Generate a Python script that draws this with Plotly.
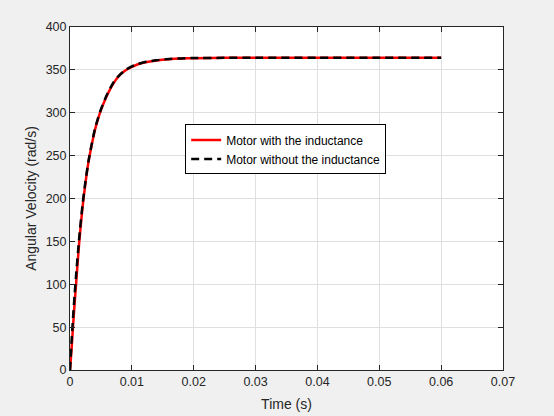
import plotly.graph_objects as go

# Time samples (s)
time_s = [0, 0.00025, 0.0005, 0.00075, 0.001, 0.0015, 0.002, 0.0025, 0.003, 0.0035,
          0.004, 0.0045, 0.005, 0.006, 0.007, 0.008, 0.009, 0.010, 0.011, 0.012,
          0.014, 0.016, 0.018, 0.020, 0.025, 0.030, 0.040, 0.050, 0.060]

# Motor with the inductance (rad/s)
with_inductance = [0, 24, 52, 78, 102, 150, 188, 218, 243, 262,
                   279, 292, 303, 320.5, 334, 343.5, 349.5, 353.5, 356.5, 358.5,
                   361, 362.5, 363.3, 363.7, 364, 364, 364, 364, 364]

# Motor without the inductance (rad/s)
without_inductance = [0, 33, 62, 88, 112, 155, 191, 220, 244, 263,
                      280, 293, 304, 321.5, 335, 344, 350, 354, 357, 359,
                      361.3, 362.7, 363.4, 363.8, 364, 364, 364, 364, 364]

x_ticks = [0, 0.01, 0.02, 0.03, 0.04, 0.05, 0.06, 0.07]
x_tick_labels = ["0", "0.01", "0.02", "0.03", "0.04", "0.05", "0.06", "0.07"]
y_ticks = [0, 50, 100, 150, 200, 250, 300, 350, 400]

axis_color = "#262626"
font_family = "Liberation Sans, Arial, sans-serif"

fig = go.Figure()
fig.add_trace(go.Scatter(
    x=time_s, y=with_inductance, mode="lines",
    name="Motor with the inductance",
    line=dict(color="#ff0000", width=2.5, shape="spline", smoothing=0.6),
))
fig.add_trace(go.Scatter(
    x=time_s, y=without_inductance, mode="lines",
    name="Motor without the inductance",
    line=dict(color="#000000", width=2.5, dash="8px,5px", shape="spline", smoothing=0.6),
))

axis_common = dict(
    showline=True, linecolor=axis_color, linewidth=1, mirror="allticks",
    ticks="inside", ticklen=5, tickcolor=axis_color, tickwidth=1,
    showgrid=True, gridcolor="#dfdfdf", gridwidth=1, zeroline=False,
    tickfont=dict(family=font_family, size=12.5, color=axis_color),
)

fig.update_xaxes(
    range=[0, 0.07], tickvals=x_ticks, ticktext=x_tick_labels,
    title=dict(text="Time (s)", font=dict(family=font_family, size=14, color=axis_color), standoff=11),
    **axis_common,
)
fig.update_yaxes(
    range=[0, 400], tickvals=y_ticks,
    title=dict(text="Angular Velocity (rad/s)", font=dict(family=font_family, size=14, color=axis_color), standoff=5),
    **axis_common,
)

fig.update_layout(
    width=554, height=416,
    margin=dict(l=70, r=51, t=27, b=46, autoexpand=False),
    paper_bgcolor="#f0f0f0", plot_bgcolor="#ffffff",
    font=dict(family=font_family, color=axis_color),
    showlegend=True,
    legend=dict(
        x=0.266, y=0.716, xanchor="left", yanchor="top",
        bgcolor="#ffffff", bordercolor="#000000", borderwidth=1,
        font=dict(family=font_family, size=12, color="#000000"),
        tracegroupgap=0, itemwidth=30,
    ),
)

fig.write_html(
    "out.html",
    config={"displayModeBar": False},
    post_script="document.body.style.margin='0';document.body.style.background='#f0f0f0';",
)
